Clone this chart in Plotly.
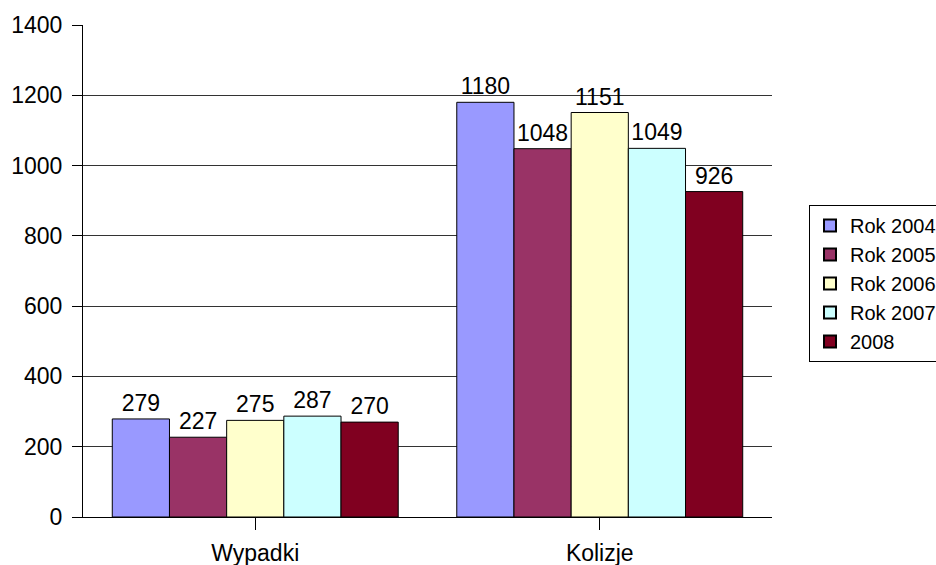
import plotly.graph_objects as go

categories = ["Wypadki", "Kolizje"]
series_names = ["Rok 2004", "Rok 2005", "Rok 2006", "Rok 2007", "2008"]
values = [
    [279, 1180],
    [227, 1048],
    [275, 1151],
    [287, 1049],
    [270, 926],
]
colors = ["#9999FF", "#993366", "#FFFFCC", "#CCFFFF", "#800020"]
y_ticks = [0, 200, 400, 600, 800, 1000, 1200, 1400]

fig = go.Figure()
for name, vals, col in zip(series_names, values, colors):
    fig.add_trace(go.Bar(
        x=categories, y=vals, name=name,
        marker=dict(color=col, line=dict(color="#000000", width=1)),
        text=[str(v) for v in vals], textposition="outside",
        textfont=dict(family="Liberation Sans, Arial", size=23, color="#000000"),
        cliponaxis=False,
    ))

fig.update_layout(
    width=936, height=565,
    margin=dict(l=83, r=164, t=25, b=48, autoexpand=False),
    paper_bgcolor="white", plot_bgcolor="white",
    barmode="group", bargap=0.17, bargroupgap=0,
    font=dict(family="Liberation Sans, Arial", size=23, color="#000000"),
    showlegend=True,
    legend=dict(
        x=(809 - 83) / 689, xanchor="left", y=(517 - 205) / 492, yanchor="top",
        bordercolor="#000000", borderwidth=1,
        font=dict(size=20, color="#000000"),
        itemsizing="constant", tracegroupgap=0,
    ),
    uniformtext=dict(mode=False),
)
fig.update_xaxes(
    showline=True, linecolor="#000000", linewidth=1,
    ticks="outside", ticklen=12, tickcolor="#000000",
    tickfont=dict(size=23), showgrid=False, automargin=False,
    ticklabelstandoff=3,
)
fig.update_yaxes(
    range=[0, 1400], tickvals=y_ticks,
    showline=True, linecolor="#000000", linewidth=1,
    ticks="outside", ticklen=10, tickcolor="#000000",
    showgrid=True, gridcolor="#333333", gridwidth=1,
    zeroline=False, tickfont=dict(size=23), automargin=False,
    ticklabelstandoff=5,
)

fig.write_html(
    "out.html",
    config={"displayModeBar": False},
    post_script="document.body.style.margin='0';document.body.style.overflow='hidden';",
)
